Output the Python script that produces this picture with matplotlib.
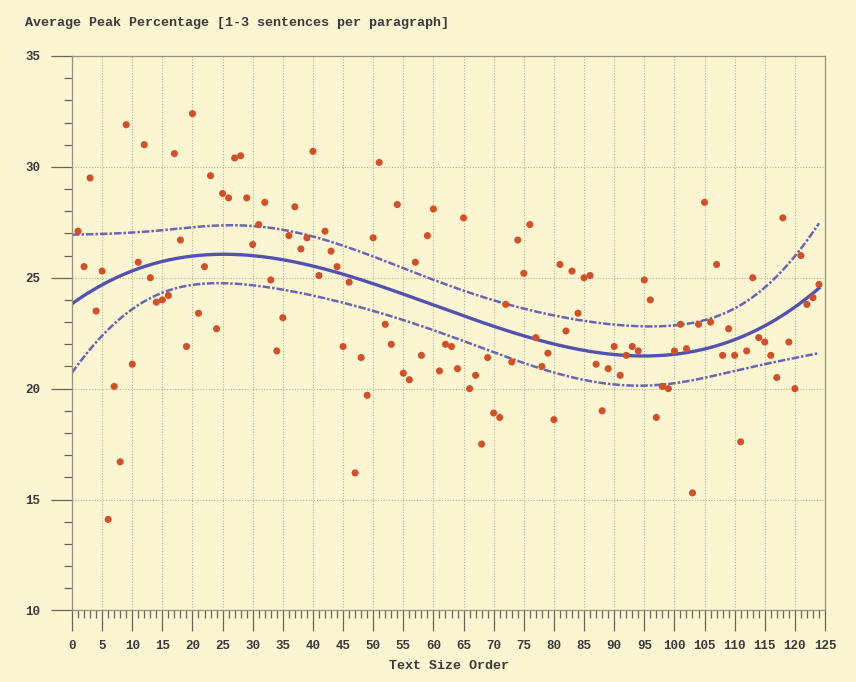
import matplotlib.pyplot as plt
import numpy as np

# scatter values, one per text size order position
order = np.arange(1, 125)
peak = np.array([
    27.1, 25.5, 29.5, 23.5, 25.3, 14.1, 20.1, 16.7, 31.9, 21.1,
    25.7, 31.0, 25.0, 23.9, 24.0, 24.2, 30.6, 26.7, 21.9, 32.4,
    23.4, 25.5, 29.6, 22.7, 28.8, 28.6, 30.4, 30.5, 28.6, 26.5,
    27.4, 28.4, 24.9, 21.7, 23.2, 26.9, 28.2, 26.3, 26.8, 30.7,
    25.1, 27.1, 26.2, 25.5, 21.9, 24.8, 16.2, 21.4, 19.7, 26.8,
    30.2, 22.9, 22.0, 28.3, 20.7, 20.4, 25.7, 21.5, 26.9, 28.1,
    20.8, 22.0, 21.9, 20.9, 27.7, 20.0, 20.6, 17.5, 21.4, 18.9,
    18.7, 23.8, 21.2, 26.7, 25.2, 27.4, 22.3, 21.0, 21.6, 18.6,
    25.6, 22.6, 25.3, 23.4, 25.0, 25.1, 21.1, 19.0, 20.9, 21.9,
    20.6, 21.5, 21.9, 21.7, 24.9, 24.0, 18.7, 20.1, 20.0, 21.7,
    22.9, 21.8, 15.3, 22.9, 28.4, 23.0, 25.6, 21.5, 22.7, 21.5,
    17.6, 21.7, 25.0, 22.3, 22.1, 21.5, 20.5, 27.7, 22.1, 20.0,
    26.0, 23.8, 24.1, 24.7,
])

x_ticks = np.arange(0, 126, 5)
y_ticks = np.arange(10, 36, 5)

bg = '#fcf5d2'
font = {'family': 'Liberation Mono', 'weight': 'bold'}

# cubic fit with confidence band
deg = 3
X = np.vander(order, deg + 1)
coef, res, _, _ = np.linalg.lstsq(X, peak, rcond=None)
resid = peak - X @ coef
s2 = resid @ resid / (len(peak) - deg - 1)
cov = s2 * np.linalg.inv(X.T @ X)
xs = np.linspace(0, 124, 300)
Xs = np.vander(xs, deg + 1)
fit = Xs @ coef
se = np.sqrt(np.einsum('ij,jk,ik->i', Xs, cov, Xs))
mult = 2.55

fig = plt.figure(figsize=(8.56, 6.82), dpi=100, facecolor=bg)
ax = fig.add_axes([0.0841, 0.105, 0.8797, 0.8129], facecolor=bg)

ax.grid(True, which='major', linestyle=(0, (1, 1.5)), color='#bdb398', linewidth=0.8)
ax.set_axisbelow(True)

ax.plot(xs, fit + mult * se, color='#6666b4', lw=1.8, linestyle=(0, (3, 0.8, 1, 0.8)))
ax.plot(xs, fit - mult * se, color='#6666b4', lw=1.8, linestyle=(0, (3, 0.8, 1, 0.8)))
ax.plot(xs, fit, color='#5252b0', lw=2.4)
ax.scatter(order, peak, s=26, color='#cf5029', edgecolors='none', zorder=3)

ax.set_xlim(0, 125)
ax.set_ylim(10, 35)
ax.set_xticks(x_ticks)
ax.set_xticks(np.arange(0, 126, 1), minor=True)
ax.set_yticks(y_ticks)
ax.set_yticks(np.arange(10, 36, 1), minor=True)
ax.tick_params(axis='both', which='major', length=15, width=0.9, color='#6e6252', pad=6)
ax.tick_params(axis='both', which='minor', length=6, width=0.9, color='#6e6252')
ax.tick_params(axis='y', which='major', pad=8)
for lab in ax.get_xticklabels() + ax.get_yticklabels():
    lab.set_fontproperties(font)
    lab.set_fontsize(9)
    lab.set_color('#3a3a3a')

for sp in ax.spines.values():
    sp.set_color('#9c9080')
    sp.set_linewidth(0.9)

ax.set_xlabel('Text Size Order', fontdict=font, fontsize=9.6, color='#3a3a3a', labelpad=6)
fig.text(0.029, 0.962, 'Average Peak Percentage [1-3 sentences per paragraph]',
         fontdict=font, fontsize=9.6, color='#3a3a3a')

fig.savefig('out.png', dpi=100, facecolor=bg)
